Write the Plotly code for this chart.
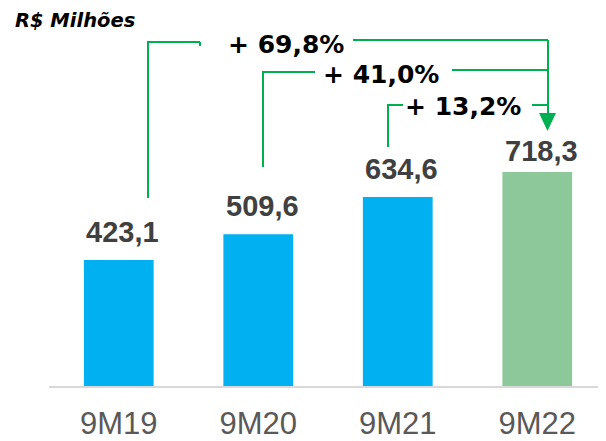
import plotly.graph_objects as go

# ---- data ----
categories = ["9M19", "9M20", "9M21", "9M22"]
values = [423.1, 509.6, 634.6, 718.3]
value_labels = ["423,1", "509,6", "634,6", "718,3"]
growth_labels = ["+ 69,8%", "+ 41,0%", "+ 13,2%"]
bar_colors = ["#00B0F0", "#00B0F0", "#00B0F0", "#8DC89B"]
unit_label = "R$ Milhões"

OFF = 8                 # page body margin compensation
W, H = 606 - OFF, 441 - OFF
ML = 49 - OFF
MT = 0
BASE_Y = 386 - OFF      # axis baseline in figure pixels
MB = H - BASE_Y
MR = 0
PW, PH = W - ML - MR, H - MT - MB
CAT_W = 139.5           # pixels per category
PX_PER_UNIT = 0.298     # pixels per value unit

x_range = [-0.5, -0.5 + PW / CAT_W]
y_range = [0, PH / PX_PER_UNIT]

def px(xp):  # reference-page pixel x -> paper
    return (xp - OFF - ML) / PW

def py(yp):  # reference-page pixel y -> paper
    return (BASE_Y - (yp - OFF)) / PH

GREEN = "#00B050"

fig = go.Figure()
fig.add_trace(go.Bar(
    x=list(range(len(categories))), y=values,
    marker=dict(color=bar_colors, line=dict(width=0)),
    width=0.5, hoverinfo="skip",
))

annotations = []
# value labels
for i, (v, lab) in enumerate(zip(values, value_labels)):
    annotations.append(dict(
        x=i, y=v, xref="x", yref="y", text=f"<b>{lab}</b>", showarrow=False,
        xanchor="center", yanchor="bottom", xshift=4,
        yshift=(3 if i == 3 else 10),
        font=dict(family="Liberation Sans, Arial", size=29, color="#404040"),
    ))

# unit label
annotations.append(dict(
    x=px(13), y=py(20), xref="paper", yref="paper", text=f"<b><i>{unit_label}</i></b>",
    showarrow=False, xanchor="left", yanchor="middle",
    font=dict(family="DejaVu Sans", size=19.5, color="#000000"),
))

# growth brackets (pixel geometry of decorative connectors)
brackets = [
    # (vertical x, bottom y, top y, left seg end x, text center x, text y, right seg start x, right seg y)
    (148, 198, 42, 200, 286, 44, 353, 40),
    (263, 167, 72, 315, 381, 75, 452, 70),
    (388, 147, 105, 403, 463, 107, 532, 105),
]
shapes = []
ARROW_X = 548
for (vx, yb, yt, lx, tx, ty, rx, ry), lab in zip(brackets, growth_labels):
    shapes.append(dict(type="path", xref="paper", yref="paper",
                       path=f"M {px(vx)},{py(yb)} L {px(vx)},{py(yt)} L {px(lx)},{py(yt)}",
                       line=dict(color=GREEN, width=2)))
    shapes.append(dict(type="line", xref="paper", yref="paper",
                       x0=px(rx), y0=py(ry), x1=px(ARROW_X), y1=py(ry),
                       line=dict(color=GREEN, width=2)))
    annotations.append(dict(
        x=px(tx), y=py(ty), xref="paper", yref="paper", text=f"<b>{lab}</b>",
        showarrow=False, xanchor="center", yanchor="middle",
        font=dict(family="DejaVu Sans", size=25, color="#000000"),
    ))
# small tick at end of first bracket's left segment
shapes.append(dict(type="line", xref="paper", yref="paper",
                   x0=px(200), y0=py(42), x1=px(200), y1=py(46),
                   line=dict(color=GREEN, width=2)))
# arrow shaft and head
shapes.append(dict(type="line", xref="paper", yref="paper",
                   x0=px(ARROW_X), y0=py(40), x1=px(ARROW_X), y1=py(114),
                   line=dict(color=GREEN, width=2)))
shapes.append(dict(type="path", xref="paper", yref="paper",
                   path=f"M {px(539)},{py(113)} L {px(556)},{py(113)} L {px(547.5)},{py(131)} Z",
                   fillcolor=GREEN, line=dict(color=GREEN, width=0)))

fig.update_layout(
    width=W, height=H,
    margin=dict(l=ML, r=MR, t=MT, b=MB, pad=0),
    paper_bgcolor="white", plot_bgcolor="white",
    showlegend=False,
    bargap=0.5,
    xaxis=dict(range=x_range, tickmode="array", tickvals=list(range(len(categories))),
               ticktext=categories, showgrid=False, zeroline=False,
               showline=True, linecolor="#D9D9D9", linewidth=2, ticks="",
               ticklabelstandoff=9,
               tickfont=dict(family="Liberation Sans, Arial", size=31, color="#595959"),
               fixedrange=True),
    yaxis=dict(range=y_range, visible=False, showgrid=False, zeroline=False, fixedrange=True),
    annotations=annotations,
    shapes=shapes,
)

fig.write_html("out.html", config={"displayModeBar": False})
